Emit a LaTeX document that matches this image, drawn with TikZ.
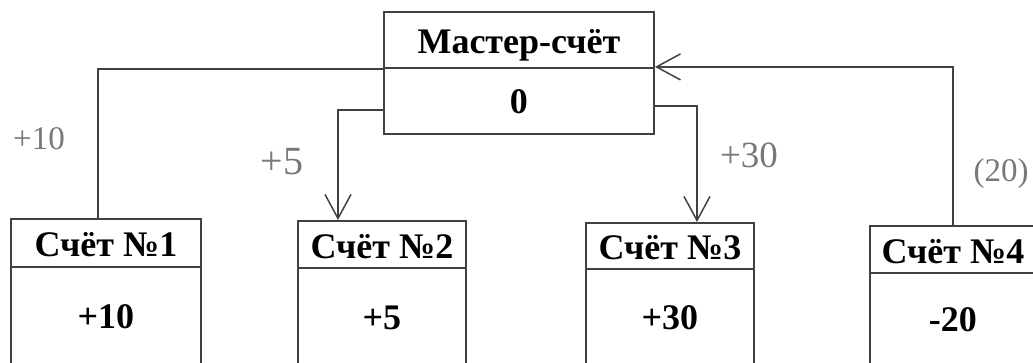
\documentclass[tikz,border=0pt]{standalone}
\usepackage{fontspec}
\setmainfont{Liberation Serif}
\usetikzlibrary{arrows.meta,calc}
\definecolor{linec}{RGB}{65,65,65}
\definecolor{labc}{RGB}{120,120,120}
\begin{document}
\begin{tikzpicture}[x=1pt,y=-1pt,
  boxbase/.style={draw=linec,line width=1.9pt,inner sep=0pt,anchor=north west,
    font=\fontsize{36}{42}\selectfont\bfseries,text depth=0pt},
  hdr/.style={boxbase,text height=28pt},
  bdy/.style={boxbase,text height=22pt},
  mbdy/.style={boxbase,text height=26pt},
  conn/.style={draw=linec,line width=1.9pt},
  arr/.style={-{Straight Barb[length=24pt,width=26pt,line width=1.5pt]}},
  lab/.style={text=labc,anchor=base,inner sep=0pt}
]
\useasboundingbox (0,0) rectangle (1033,363);
\begin{scope}
\clip (0,0) rectangle (1033,363);
% master
\node[hdr, minimum width=270pt, minimum height=56pt] (mh) at (383,11) {Мастер-счёт};
\node[mbdy, minimum width=270pt, minimum height=66pt] (mb) at (383,67) {0};
% accounts
\node[hdr, minimum width=190pt, minimum height=48pt] (b1h) at (10,218) {Счёт №1};
\node[bdy, minimum width=190pt, minimum height=102pt] (b1b) at (10,266) {+10};
\node[hdr, minimum width=168pt, minimum height=47pt] (b2h) at (297,220) {Счёт №2};
\node[bdy, minimum width=168pt, minimum height=101pt] (b2b) at (297,267) {+5};
\node[hdr, minimum width=168pt, minimum height=46pt] (b3h) at (585,222) {Счёт №3};
\node[bdy, minimum width=168pt, minimum height=100pt] (b3b) at (585,268) {+30};
\node[hdr, minimum width=166pt, minimum height=47pt] (b4h) at (869,225) {Счёт №4};
\node[bdy, minimum width=166pt, minimum height=96pt] (b4b) at (869,272) {-20};
\end{scope}
% connectors
\draw[conn] ($(b1h.north west)+(88,0)$) |- (mh.south west);
\draw[conn,arr] ($(mb.north west)+(0,43)$) -| ($(b2h.north west)+(41,0)$);
\draw[conn,arr] ($(mb.north east)+(0,39)$) -| ($(b3h.north west)+(112,0)$);
\draw[conn,arr] ($(b4h.north west)+(84,0)$) |- ($(mh.south east)+(0,-2)$);
% flow labels
\node[lab,font=\fontsize{33}{40}\selectfont] (l1) at (39,150) {+10};
\node[lab,font=\fontsize{40}{48}\selectfont] (l2) at (282,175) {+5};
\node[lab,font=\fontsize{37}{44}\selectfont] (l3) at (749,168) {+30};
\node[lab,font=\fontsize{33}{40}\selectfont] (l4) at (1001,182) {(20)};
\end{tikzpicture}
\end{document}
